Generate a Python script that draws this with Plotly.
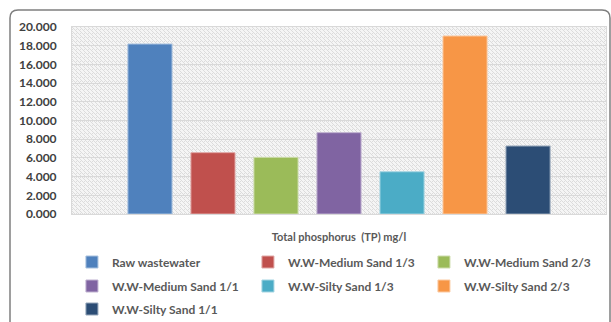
import plotly.graph_objects as go
import base64

category = ["Total phosphorus  (TP) mg/l"]
series_names = [
    "Raw wastewater",
    "W.W-Medium Sand 1/3",
    "W.W-Medium Sand 2/3",
    "W.W-Medium Sand 1/1",
    "W.W-Silty Sand 1/3",
    "W.W-Silty Sand 2/3",
    "W.W-Silty Sand 1/1",
]
series_values = [18.18, 6.56, 6.06, 8.70, 4.52, 19.04, 7.27]
colors = ["#4F81BD", "#C0504D", "#9BBB59", "#8064A2", "#4BACC6", "#F79646", "#2C4D75"]
edge_colors = ["#a7c0de", "#e0a8a6", "#cddcac", "#bfb1d0", "#a5d5e2", "#fbcaa2", "#95a6ba"]
legend_rows = ["legend", "legend", "legend", "legend2", "legend2", "legend2", "legend3"]
y_ticks = [0, 2, 4, 6, 8, 10, 12, 14, 16, 18, 20]

W, H = 611, 322
L, R, T, B = 72, 5, 27, 108
pw, ph = W - L - R, H - T - B

def px2x(px):
    return (px - L) / pw

def py2y(py):
    return (H - B - py) / ph

fig = go.Figure()
for name, val, col, ec, lg in zip(series_names, series_values, colors, edge_colors, legend_rows):
    fig.add_trace(go.Bar(
        x=category, y=[val], name=name,
        marker=dict(color=col, line=dict(color=ec, width=1)),
        legend=lg,
    ))

# hatch background image
svg = ('<svg xmlns="http://www.w3.org/2000/svg" width="534" height="187">'
       '<defs><pattern id="p" width="4" height="4" patternUnits="userSpaceOnUse">'
       '<rect width="4" height="4" fill="#f5f5f5"/>'
       '<path d="M-1,1 l2,2 M0,0 l4,4 M3,-1 l2,2" stroke="#dcdcdc" stroke-width="1"/>'
       '</pattern></defs><rect width="534" height="187" fill="url(#p)"/></svg>')
src = "data:image/svg+xml;base64," + base64.b64encode(svg.encode()).decode()

font_family = "Lato, 'Open Sans', sans-serif"
text_col = "#595959"

legend_common = dict(
    orientation="h", xanchor="left", yanchor="middle",
    entrywidth=131, entrywidthmode="pixels",
    font=dict(family=font_family, size=12, color=text_col, weight="bold"),
    bgcolor="rgba(0,0,0,0)", itemwidth=30,
)

# rounded outer border
x0, x1 = px2x(10), px2x(610)
y0, y1 = py2y(340), py2y(10)
rx, ry = 8 / pw, 8 / ph
path = (f"M {x0},{y0} L {x0},{y1-ry} Q {x0},{y1} {x0+rx},{y1} "
        f"L {x1-rx},{y1} Q {x1},{y1} {x1},{y1-ry} L {x1},{y0}")

lx = -0.0001
fig.update_layout(
    width=W, height=H,
    margin=dict(l=L, r=R, t=T, b=B, autoexpand=False),
    paper_bgcolor="white",
    plot_bgcolor="#f2f2f2",
    barmode="group",
    bargap=0.174,
    bargroupgap=0.3,
    showlegend=True,
    font=dict(family=font_family, color=text_col),
    xaxis=dict(
        showticklabels=False, showgrid=False, zeroline=False,
        showline=True, linecolor="#d9d9d9", linewidth=1, mirror=True,
        title=dict(text="Total phosphorus  (TP) mg/l", standoff=19,
                   font=dict(family=font_family, size=11, color=text_col, weight="bold")),
    ),
    yaxis=dict(
        range=[0, 20], tickvals=y_ticks, tickformat=".3f",
        showgrid=True, gridcolor="#d9d9d9", gridwidth=1, zeroline=False,
        showline=True, linecolor="#d9d9d9", linewidth=1, mirror=True,
        ticks="", ticklabelstandoff=12,
        tickfont=dict(family=font_family, size=12, color="#404040", weight="bold"),
    ),
    legend=dict(x=lx, y=py2y(262), **legend_common),
    legend2=dict(x=lx, y=py2y(286), **legend_common),
    legend3=dict(x=lx, y=py2y(309), **legend_common),
    images=[dict(source=src, xref="paper", yref="paper", x=0, y=1, sizex=1, sizey=1,
                 xanchor="left", yanchor="top", sizing="stretch", layer="below")],
    shapes=[dict(type="path", path=path, xref="paper", yref="paper",
                 line=dict(color="#7f7f7f", width=1.5), layer="above")],
)

fig.write_html("out.html")
